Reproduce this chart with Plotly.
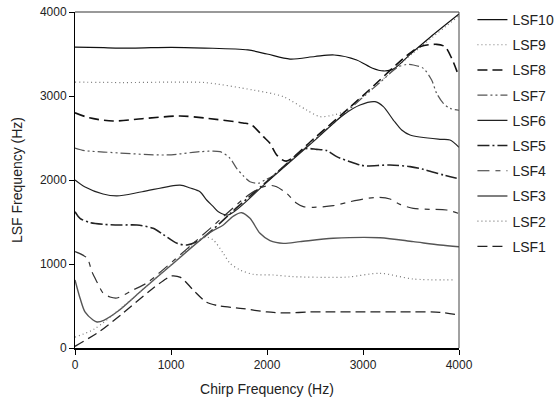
import plotly.graph_objects as go

# ---- data (chirp frequency Hz, LSF frequency Hz) ----
lsf1_f = [0, 260, 500, 800, 950, 1000, 1100, 1232, 1371, 1510, 1750, 2000, 2208, 2448, 2687, 3000, 3500, 3800, 4000]
lsf1_v = [20, 200, 415, 700, 825, 857, 840, 690, 545, 500, 470, 429, 417, 429, 429, 430, 430, 425, 393]

lsf2_f = [0, 200, 500, 1000, 1300, 1372, 1441, 1545, 1615, 1719, 1857, 2066, 2274, 2690, 2850, 3177, 3524, 3958]
lsf2_v = [130, 225, 495, 990, 1290, 1320, 1286, 1127, 1008, 929, 877, 869, 849, 841, 845, 889, 821, 810]

lsf3_f = [0, 52, 104, 188, 229, 300, 450, 700, 1000, 1400, 1545, 1650, 1736, 1823, 1927, 2031, 2170, 2344, 2690, 3177, 3524, 3802, 4000]
lsf3_v = [810, 595, 429, 333, 310, 330, 440, 690, 985, 1370, 1464, 1570, 1611, 1544, 1365, 1278, 1246, 1266, 1306, 1313, 1266, 1226, 1206]

lsf4_f = [0, 125, 177, 229, 292, 365, 437, 604, 750, 900, 1400, 1800, 1950, 2040, 2100, 2205, 2309, 2378, 2483, 2690, 2865, 3003, 3160, 3281, 3385, 3524, 3698, 3871, 3993]
lsf4_v = [1147, 1071, 905, 786, 655, 607, 595, 690, 775, 915, 1415, 1815, 1915, 1935, 1920, 1841, 1722, 1683, 1675, 1694, 1742, 1774, 1794, 1774, 1710, 1663, 1651, 1643, 1603]

lsf5_f = [0, 52, 156, 292, 469, 646, 813, 917, 1063, 1167, 1300, 1700, 2100, 2300, 2396, 2517, 2622, 2726, 2865, 2969, 3038, 3281, 3490, 3628, 3837, 3976]
lsf5_v = [1623, 1544, 1492, 1472, 1464, 1464, 1425, 1353, 1246, 1226, 1285, 1685, 2085, 2290, 2372, 2365, 2350, 2278, 2218, 2179, 2167, 2179, 2159, 2127, 2060, 2020]

lsf6_f = [0, 100, 292, 437, 700, 1094, 1200, 1302, 1371, 1441, 1493, 1600, 2000, 2500, 2795, 2969, 3125, 3212, 3316, 3403, 3490, 3802, 3906, 4000]
lsf6_v = [2000, 1920, 1833, 1810, 1860, 1940, 1905, 1861, 1762, 1683, 1623, 1585, 1975, 2475, 2774, 2893, 2932, 2873, 2714, 2595, 2536, 2484, 2476, 2390]

lsf7_f = [0, 100, 300, 958, 1302, 1510, 1615, 1684, 1753, 1823, 1910, 1979, 2049, 2200, 2700, 3200, 3350, 3450, 3524, 3628, 3715, 3767, 3837, 3906, 4000]
lsf7_v = [2380, 2350, 2333, 2298, 2337, 2337, 2258, 2139, 2050, 1980, 1961, 2000, 2040, 2185, 2685, 3185, 3335, 3375, 3369, 3329, 3190, 3032, 2913, 2853, 2830]

lsf8_f = [0, 150, 396, 700, 1094, 1350, 1750, 1840, 1962, 2031, 2101, 2200, 2500, 3000, 3455, 3600, 3767, 3854, 3924, 3993]
lsf8_v = [2800, 2740, 2702, 2730, 2762, 2738, 2679, 2655, 2516, 2437, 2298, 2225, 2505, 3005, 3480, 3590, 3615, 3587, 3448, 3250]

lsf9_f = [0, 500, 1000, 1350, 1857, 2170, 2413, 2552, 2691, 2800, 3000, 3500, 4000]
lsf9_v = [3166, 3160, 3165, 3160, 3071, 2992, 2833, 2754, 2774, 2815, 2995, 3490, 3955]

lsf10_f = [0, 300, 600, 1000, 1350, 1800, 2000, 2240, 2500, 2700, 2934, 3100, 3212, 3316, 3500, 3700, 4000]
lsf10_v = [3583, 3575, 3570, 3580, 3571, 3548, 3500, 3440, 3470, 3488, 3429, 3330, 3298, 3320, 3505, 3700, 3976]

names = ["LSF10", "LSF9", "LSF8", "LSF7", "LSF6", "LSF5", "LSF4", "LSF3", "LSF2", "LSF1"]
xs = [lsf10_f, lsf9_f, lsf8_f, lsf7_f, lsf6_f, lsf5_f, lsf4_f, lsf3_f, lsf2_f, lsf1_f]
ys = [lsf10_v, lsf9_v, lsf8_v, lsf7_v, lsf6_v, lsf5_v, lsf4_v, lsf3_v, lsf2_v, lsf1_v]

styles = [
    dict(color="#111111", width=1.2, dash="solid"),
    dict(color="#777777", width=1.2, dash="1px,3px"),
    dict(color="#111111", width=1.6, dash="10px,5px"),
    dict(color="#555555", width=1.2, dash="10px,3px,2px,3px,2px,3px"),
    dict(color="#222222", width=1.2, dash="solid"),
    dict(color="#222222", width=1.6, dash="12px,3px,2px,3px"),
    dict(color="#333333", width=1.2, dash="12px,6px,5px,6px"),
    dict(color="#555555", width=1.4, dash="solid"),
    dict(color="#777777", width=1.2, dash="1px,3px"),
    dict(color="#222222", width=1.3, dash="10px,5px"),
]

fig = go.Figure()
for n, x, y, st in zip(names, xs, ys, styles):
    fig.add_trace(go.Scatter(x=x, y=y, mode="lines", name=n, legendgroup=n,
                             line=dict(shape="spline", smoothing=0.8, **st)))

font = "Liberation Sans, Arial, sans-serif"
fig.update_layout(
    width=560, height=403,
    margin=dict(l=75, r=101, t=12, b=55, autoexpand=False),
    paper_bgcolor="white", plot_bgcolor="white",
    font=dict(family=font, size=12, color="#222222"),
    showlegend=True,
    legend=dict(x=1.035, y=1.024, xanchor="left", yanchor="top",
                font=dict(size=14, family=font, color="#222222"),
                tracegroupgap=4, itemwidth=30, maxheight=400,
                bgcolor="rgba(0,0,0,0)"),
    xaxis=dict(range=[0, 4000], tickvals=[0, 1000, 2000, 3000, 4000], automargin=False,
               showgrid=False, zeroline=False, showline=True, linecolor="#000000", linewidth=2,
               ticks="outside", ticklen=5, tickcolor="#000000",
               title=dict(text="Chirp Frequency (Hz)", font=dict(size=14), standoff=13),
               tickfont=dict(size=12)),
    yaxis=dict(range=[0, 4000], tickvals=[0, 1000, 2000, 3000, 4000], automargin=False,
               showgrid=False, zeroline=False, showline=True, linecolor="#000000", linewidth=1,
               ticks="outside", ticklen=5, tickcolor="#000000",
               title=dict(text="LSF Frequency (Hz)", font=dict(size=14), standoff=13),
               tickfont=dict(size=12)),
    shapes=[
        dict(type="line", xref="paper", yref="paper", x0=0, x1=1, y0=1, y1=1,
             line=dict(color="#999999", width=2)),
        dict(type="line", xref="paper", yref="paper", x0=1, x1=1, y0=0, y1=1,
             line=dict(color="#444444", width=1)),
    ],
)

fig.write_html("out.html", config={"displayModeBar": False},
               post_script="document.body.style.margin='0';")
